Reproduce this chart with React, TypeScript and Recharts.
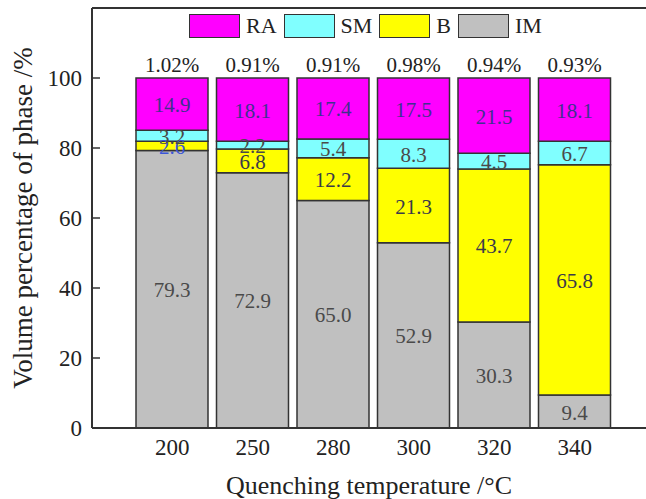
import React from 'react';
import {
  BarChart,
  Bar,
  XAxis,
  YAxis,
  Legend,
  LabelList,
  ReferenceLine,
} from 'recharts';

const temps = ['200', '250', '280', '300', '320', '340'];
const im = [79.3, 72.9, 65.0, 52.9, 30.3, 9.4];
const bainite = [2.6, 6.8, 12.2, 21.3, 43.7, 65.8];
const sm = [3.2, 2.2, 5.4, 8.3, 4.5, 6.7];
const ra = [14.9, 18.1, 17.4, 17.5, 21.5, 18.1];
const other = [1.02, 0.91, 0.91, 0.98, 0.94, 0.93];
const yTicks = [0, 20, 40, 60, 80, 100];

const legendItems = [
  { name: 'RA', color: '#ff00ff' },
  { name: 'SM', color: '#80ffff' },
  { name: 'B', color: '#ffff00' },
  { name: 'IM', color: '#c0c0c0' },
];

const data = temps.map((t, i) => ({
  temp: t,
  im: im[i],
  b: bainite[i],
  sm: sm[i],
  ra: ra[i],
  other: other[i],
}));

const FONT = '"Liberation Serif", "Times New Roman", serif';
const INK = '#333';

// y ticks point into the plot, so draw them ourselves
const YTick = (props: any) => {
  const { x, y, payload } = props;
  const axisX = x + 10;
  return (
    <g>
      <line x1={axisX} x2={axisX + 8} y1={y} y2={y} stroke={INK} strokeWidth={1.5} />
      <text x={x} y={y} dy="0.35em" textAnchor="end" fontSize={23} fill="#222" fontFamily={FONT}>
        {payload.value}
      </text>
    </g>
  );
};

const makeLabel = (color: string, special?: Record<number, string>) => (props: any) => {
  const { x, y, width, height, value, index } = props;
  const fill = special && special[index] ? special[index] : color;
  return (
    <text
      x={x + width / 2}
      y={y + height / 2}
      dy="0.38em"
      textAnchor="middle"
      fontSize={21}
      fill={fill}
      fontFamily={FONT}
    >
      {Number(value).toFixed(1)}
    </text>
  );
};

const renderLegend = () => (
  <div style={{ display: 'flex', alignItems: 'center', fontFamily: FONT, fontSize: 22, color: '#222' }}>
    {legendItems.map((it) => (
      <div key={it.name} style={{ display: 'flex', alignItems: 'center', marginRight: 7 }}>
        <span
          style={{
            display: 'inline-block',
            width: 49,
            height: 22,
            background: it.color,
            border: `1.5px solid ${INK}`,
            marginRight: 6,
          }}
        />
        <span>{it.name}</span>
      </div>
    ))}
  </div>
);

export default function App() {
  return (
    <div style={{ position: 'absolute', left: 0, top: 0, width: 646, height: 499, background: '#fff' }}>
      <BarChart
        width={646}
        height={499}
        data={data}
        margin={{ top: 8, right: 0, bottom: 0, left: 0 }}
      >
        <XAxis
          dataKey="temp"
          height={71}
          padding={{ left: 40, right: 31 }}
          tickLine={false}
          tickSize={0}
          tickMargin={11}
          axisLine={{ stroke: INK, strokeWidth: 2 }}
          tick={{ fontSize: 23, fill: '#222', fontFamily: FONT }}
          label={{
            value: 'Quenching temperature /\u00b0C',
            position: 'insideBottom',
            offset: 5,
            fontSize: 26,
            fill: '#222',
            fontFamily: FONT,
          }}
        />
        <YAxis
          width={92}
          domain={[0, 120]}
          ticks={yTicks}
          tickSize={8}
          tickMargin={2}
          tickLine={false}
          tick={<YTick />}
          axisLine={{ stroke: INK, strokeWidth: 2 }}
          label={{
            value: 'Volume percentage of phase /%',
            angle: -90,
            position: 'insideLeft',
            offset: 22,
            fontSize: 27,
            fill: '#222',
            fontFamily: FONT,
            style: { textAnchor: 'middle' },
          }}
        />
        <ReferenceLine y={120} stroke={INK} strokeWidth={2} />
        <Legend
          layout="horizontal"
          verticalAlign="middle"
          align="center"
          content={renderLegend}
          wrapperStyle={{ top: 13, left: 189, width: 'auto', height: 'auto' }}
        />
        <Bar dataKey="im" name="IM" stackId="a" fill="#c0c0c0" stroke={INK} strokeWidth={1.5} barSize={72} isAnimationActive={false}>
          <LabelList dataKey="im" content={makeLabel('#4a4a4a')} />
        </Bar>
        <Bar dataKey="b" name="B" stackId="a" fill="#ffff00" stroke={INK} strokeWidth={1.5} barSize={72} isAnimationActive={false}>
          <LabelList dataKey="b" content={makeLabel('#3a3a4a', { 0: '#3b55d8' })} />
        </Bar>
        <Bar dataKey="sm" name="SM" stackId="a" fill="#80ffff" stroke={INK} strokeWidth={1.5} barSize={72} isAnimationActive={false}>
          <LabelList dataKey="sm" content={makeLabel('#4a4a4a')} />
        </Bar>
        <Bar dataKey="ra" name="RA" stackId="a" fill="#ff00ff" stroke={INK} strokeWidth={1.5} barSize={72} isAnimationActive={false}>
          <LabelList dataKey="ra" content={makeLabel('#40308f')} />
          <LabelList
            dataKey="other"
            position="top"
            offset={6}
            formatter={(v: any) => `${Number(v).toFixed(2)}%`}
            style={{ fontSize: 21, fill: '#222', fontFamily: FONT }}
          />
        </Bar>
      </BarChart>
    </div>
  );
}
